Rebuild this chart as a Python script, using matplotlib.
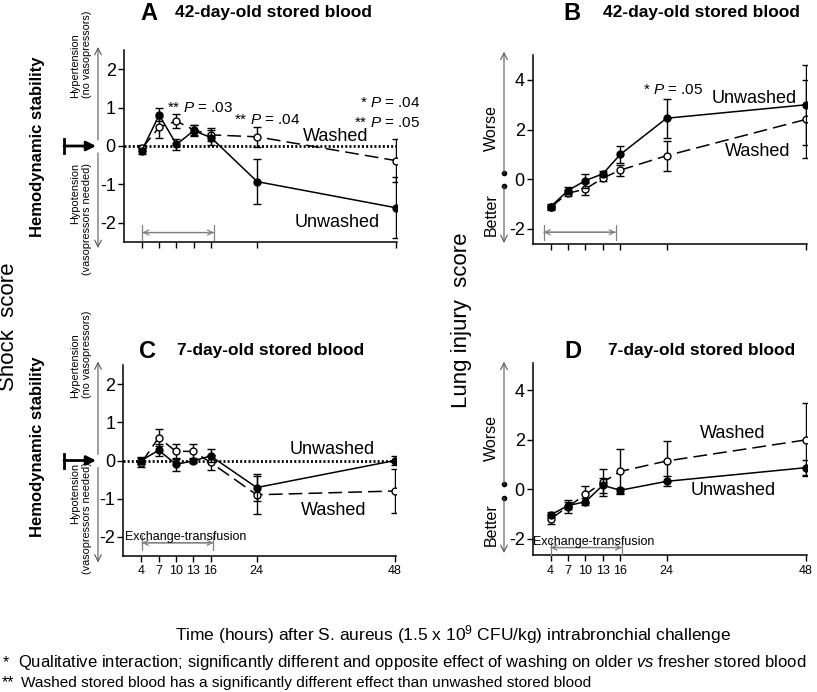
import matplotlib.pyplot as plt
import numpy as np

plt.rcParams['font.family'] = ['Liberation Sans', 'DejaVu Sans']
plt.rcParams['mathtext.fontset'] = 'custom'
plt.rcParams['mathtext.rm'] = 'Liberation Sans'
plt.rcParams['mathtext.it'] = 'Liberation Sans:italic'
plt.rcParams['axes.unicode_minus'] = False

# ---------------- data ----------------
hours = [4, 7, 10, 13, 16, 24, 48]

# A: shock score, 42-day-old stored blood
a_unw = [-0.12, 0.81, 0.04, 0.40, 0.22, -0.93, -1.61]
a_unw_err = [0.08, 0.17, 0.15, 0.15, 0.20, 0.58, 0.80]
a_wash = [-0.06, 0.49, 0.65, 0.42, 0.29, 0.24, -0.38]
a_wash_err = [0.08, 0.28, 0.18, 0.12, 0.17, 0.26, 0.57]

# B: lung injury score, 42-day-old stored blood
b_unw = [-1.10, -0.45, -0.05, 0.22, 1.00, 2.46, 3.00]
b_unw_err = [0.10, 0.15, 0.28, 0.10, 0.35, 0.78, 1.62]
b_wash = [-1.12, -0.56, -0.39, 0.05, 0.37, 0.95, 2.41]
b_wash_err = [0.10, 0.13, 0.25, 0.12, 0.22, 0.60, 1.57]

# C: shock score, 7-day-old stored blood
c_unw = [0.00, 0.27, -0.10, -0.01, 0.12, -0.71, 0.00]
c_unw_err = [0.08, 0.15, 0.17, 0.05, 0.17, 0.35, 0.13]
c_wash = [-0.06, 0.60, 0.24, 0.24, -0.05, -0.90, -0.80]
c_wash_err = [0.12, 0.22, 0.20, 0.18, 0.20, 0.50, 0.57]

# D: lung injury score, 7-day-old stored blood
d_unw = [-1.03, -0.66, -0.50, 0.16, -0.04, 0.32, 0.87]
d_unw_err = [0.10, 0.15, 0.15, 0.30, 0.10, 0.20, 0.30]
d_wash = [-1.19, -0.70, -0.21, 0.28, 0.72, 1.14, 1.99]
d_wash_err = [0.20, 0.25, 0.35, 0.55, 0.92, 0.80, 1.47]

W, H = 817, 692
fig = plt.figure(figsize=(8.17, 6.92), dpi=100)


def box(left, top, right, bottom):
    return [left / W, 1 - bottom / H, (right - left) / W, (bottom - top) / H]


def style(ax, xlim, ylim, yticks, xlabels):
    ax.set_xlim(xlim)
    ax.set_ylim(ylim)
    for s in ['top', 'right']:
        ax.spines[s].set_visible(False)
    for s in ['left', 'bottom']:
        ax.spines[s].set_linewidth(1.1)
    ax.set_xticks(hours)
    ax.set_yticks(yticks)
    ax.tick_params(direction='out', length=4, width=1)
    ax.tick_params(axis='y', labelsize=13, pad=2)
    ax.tick_params(axis='x', labelsize=9, pad=3)
    if not xlabels:
        ax.set_xticklabels([])


def draw(ax, unw, unw_err, wash, wash_err):
    ax.errorbar(hours, wash, yerr=wash_err, fmt='none', ecolor='black',
                elinewidth=1, capsize=3, capthick=1, zorder=3)
    ax.plot(hours, wash, color='black', lw=1.1, dashes=(9, 4), marker='o',
            ms=5, mfc='white', mec='black', mew=1, zorder=4)
    ax.errorbar(hours, unw, yerr=unw_err, fmt='none', ecolor='black',
                elinewidth=1, capsize=3, capthick=1, zorder=5)
    ax.plot(hours, unw, color='black', lw=1.1, ls='-', marker='o',
            ms=5, mfc='black', mec='black', zorder=6)


def exchange(ax, x0, x1, y, label=False):
    ax.annotate('', xy=(x1, y), xytext=(x0, y),
                arrowprops=dict(arrowstyle='<->', color='0.5', lw=0.9,
                                shrinkA=0, shrinkB=0, mutation_scale=9))
    ax.annotate('', xy=(x1, y), xytext=(x0, y),
                arrowprops=dict(arrowstyle='|-|, widthA=0.6, widthB=0.6',
                                color='0.5', lw=0.9, shrinkA=0, shrinkB=0,
                                mutation_scale=9))
    if label:
        ax.text(x0 - 3.0, y, 'Exchange-transfusion', fontsize=9,
                ha='left', va='bottom')


axA = fig.add_axes(box(124, 50.25, 396.7, 241.75))
axB = fig.add_axes(box(533, 55.15, 806.8, 243.9))
axC = fig.add_axes(box(123.5, 365.25, 396.2, 555.75))
axD = fig.add_axes(box(533, 363.3, 806.8, 555))

style(axA, (0.9, 48.2), (-2.5, 2.5), [-2, -1, 0, 1, 2], False)
style(axB, (0.95, 48.2), (-2.6, 5.0), [-2, 0, 2, 4], False)
style(axC, (0.9, 48.2), (-2.5, 2.5), [-2, -1, 0, 1, 2], True)
style(axD, (0.95, 48.2), (-2.65, 5.08), [-2, 0, 2, 4], True)

for ax in (axA, axC):
    ax.axhline(0, color='black', lw=2, ls=(0, (0.7, 0.8)), zorder=2)

draw(axA, a_unw, a_unw_err, a_wash, a_wash_err)
draw(axB, b_unw, b_unw_err, b_wash, b_wash_err)
draw(axC, c_unw, c_unw_err, c_wash, c_wash_err)
draw(axD, d_unw, d_unw_err, d_wash, d_wash_err)

exchange(axA, 4.1, 16.5, -2.26)
exchange(axB, 2.8, 15.2, -2.13)
exchange(axC, 4.1, 16.5, -2.16, label=True)
exchange(axD, 4.0, 16.3, -2.35, label=True)

# series labels
lab = dict(fontsize=13, ha='left', va='center')
axA.text(31.9, 0.24, 'Washed', **lab)
axA.text(30.5, -2.0, 'Unwashed', **lab)
axB.text(31.8, 3.26, 'Unwashed', **lab)
axB.text(34.1, 1.11, 'Washed', **lab)
axC.text(29.7, 0.29, 'Unwashed', **lab)
axC.text(31.7, -1.32, 'Washed', **lab)
axD.text(29.8, 2.26, 'Washed', **lab)
axD.text(28.1, -0.03, 'Unwashed', **lab)

# P values
pv = dict(fontsize=11, va='center')
axA.text(8.3, 1.0, '** $P$ = .03', ha='left', **pv)
axA.text(20.0, 0.68, '** $P$ = .04', ha='left', **pv)
axA.text(52.3, 1.12, '* $P$ = .04', ha='right', clip_on=False, **pv)
axA.text(52.3, 0.60, '** $P$ = .05', ha='right', clip_on=False, **pv)
axB.text(19.9, 3.6, '* $P$ = .05', ha='left', **pv)

# ---------------- decorations in figure pixel space ----------------
ov = fig.add_axes([0, 0, 1, 1])
ov.set_xlim(0, W)
ov.set_ylim(H, 0)
ov.axis('off')

# panel titles
for letter, lx, tx, y, title in [('A', 149, 175, 13, '42-day-old stored blood'),
                                 ('B', 572, 603, 13, '42-day-old stored blood'),
                                 ('C', 148, 176.7, 351, '7-day-old stored blood'),
                                 ('D', 573, 608, 351, '7-day-old stored blood')]:
    ov.text(lx, y, letter, fontsize=17, fontweight='bold', ha='center', va='center')
    ov.text(tx, y, title, fontsize=12.5, fontweight='bold', ha='left', va='center')

# shock panels: left side annotations
for zero, shift in [(146, 0), (460.5, -15)]:
    ov.text(37.5, zero + 1 + shift, 'Hemodynamic stability', rotation=90,
            fontsize=12, fontweight='bold', ha='center', va='center')
    ov.plot([64, 64], [zero - 7, zero + 7], color='black', lw=2)
    ov.annotate('', xy=(96, zero), xytext=(64, zero),
                arrowprops=dict(arrowstyle='-|>', color='black', lw=2,
                                shrinkA=0, shrinkB=0, mutation_scale=14))
    ov.annotate('', xy=(98, zero - 99), xytext=(98, zero - 6),
                arrowprops=dict(arrowstyle='->', color='0.35', lw=0.8,
                                shrinkA=0, shrinkB=0, mutation_scale=12))
    ov.annotate('', xy=(98, zero + 102), xytext=(98, zero + 7),
                arrowprops=dict(arrowstyle='->', color='0.35', lw=0.8,
                                shrinkA=0, shrinkB=0, mutation_scale=12))
    ov.text(81, zero - 48 + shift, 'Hypertension\n(no vasopressors)', rotation=90,
            fontsize=7.8, ha='center', va='bottom',
            multialignment='left', linespacing=1.25)
    ov.text(81, zero + 17 + shift, 'Hypotension\n(vasopressors needed)', rotation=90,
            fontsize=7.8, ha='center', va='top',
            multialignment='right', linespacing=1.25)

# lung panels: worse / better
for zero, top, bot, dot_up, dot_dn in [(179.3, 51.7, 243, -6.3, 6.7),
                                       (489.3, 361.7, 553, -5.3, 8.4)]:
    ov.annotate('', xy=(504, top), xytext=(504, zero + dot_up),
                arrowprops=dict(arrowstyle='->', color='0.35', lw=0.8,
                                shrinkA=0, shrinkB=0, mutation_scale=12))
    ov.annotate('', xy=(504, bot), xytext=(504, zero + dot_dn),
                arrowprops=dict(arrowstyle='->', color='0.35', lw=0.8,
                                shrinkA=0, shrinkB=0, mutation_scale=12))
    ov.plot([504, 504], [zero + dot_up, zero + dot_dn], ls='none', marker='o',
            ms=3, color='black')
    ov.text(491, zero - 51, 'Worse', rotation=90, fontsize=11.5,
            ha='center', va='center')
    ov.text(491, zero + 35, 'Better', rotation=90, fontsize=11.5,
            ha='center', va='center')

# shared axis titles
ov.text(9, 327, 'Shock  score', rotation=90, fontsize=16, ha='center', va='center')
ov.text(462, 320, 'Lung injury  score', rotation=90, fontsize=16,
        ha='center', va='center')
ov.text(453, 635, 'Time (hours) after S. aureus (1.5 x 10$^{9}$ CFU/kg) '
        'intrabronchial challenge', fontsize=12.5, ha='center', va='center')

# footnotes
ov.text(3, 663, '*', fontsize=11.5, ha='left', va='center')
ov.text(18, 663, 'Qualitative interaction; significantly different and opposite '
        'effect of washing on older $\\mathit{vs}$ fresher stored blood',
        fontsize=12.0, ha='left', va='center')
ov.text(2, 683, '**', fontsize=11.5, ha='left', va='center')
ov.text(21, 683, 'Washed stored blood has a significantly different effect '
        'than unwashed stored blood', fontsize=11.1, ha='left', va='center')

fig.savefig('out.png', dpi=100)
